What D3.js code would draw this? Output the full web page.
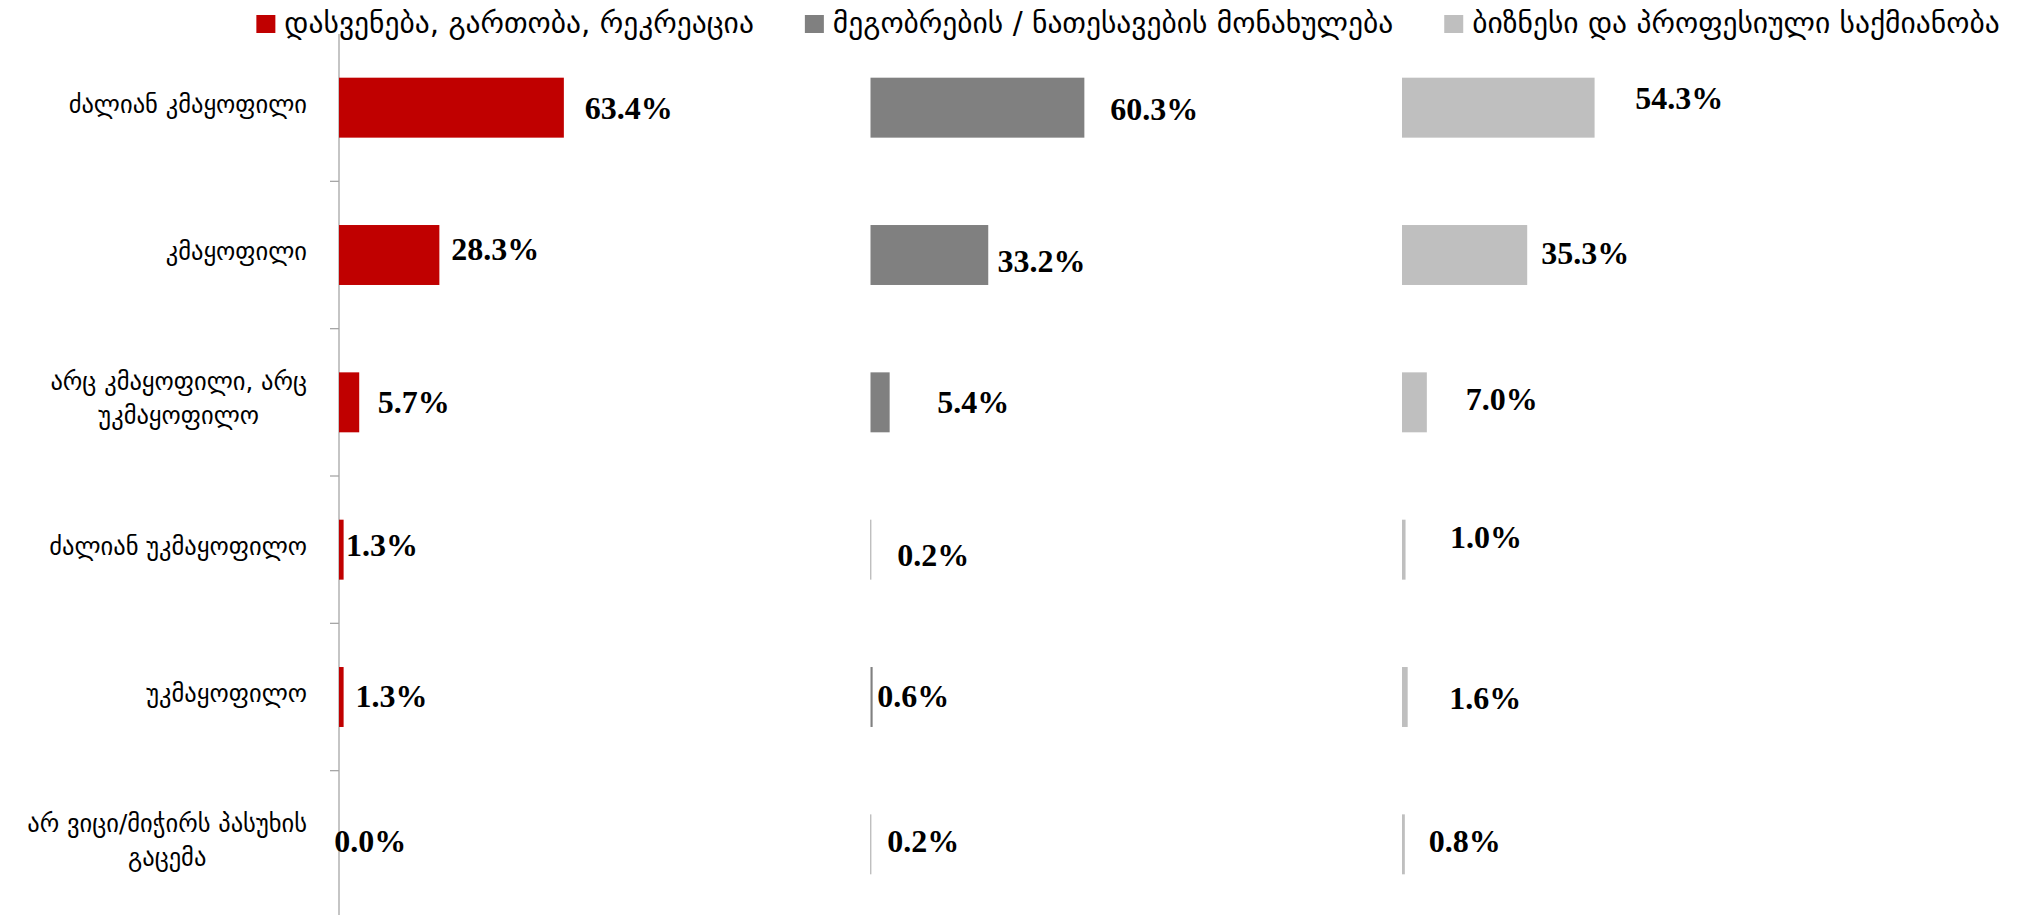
<!DOCTYPE html>
<html>
<head>
<meta charset="utf-8">
<script src="https://cdn.jsdelivr.net/npm/d3@7"></script>
<style>
  html, body { margin: 0; padding: 0; background: #ffffff; }
  svg { display: block; }
</style>
</head>
<body>
<svg id="chart" width="2026" height="915"></svg>
<script>
// ---- data ----
const categories = [
  "ძალიან კმაყოფილი",
  "კმაყოფილი",
  "არც კმაყოფილი, არც უკმაყოფილო",
  "ძალიან უკმაყოფილო",
  "უკმაყოფილო",
  "არ ვიცი/მიჭირს პასუხის გაცემა"
];
const seriesNames = [
  "დასვენება, გართობა, რეკრეაცია",
  "მეგობრების / ნათესავების მონახულება",
  "ბიზნესი და პროფესიული საქმიანობა"
];
const leisure  = [63.4, 28.3, 5.7, 1.3, 1.3, 0.0];
const visiting = [60.3, 33.2, 5.4, 0.2, 0.6, 0.2];
const business = [54.3, 35.3, 7.0, 1.0, 1.6, 0.8];
const seriesValues = [leisure, visiting, business];
const seriesColors = ["#C00000", "#808080", "#BFBFBF"];

// manual label nudges (px) as placed in the original chart
const labelGap = [
  [21, 12, 18.5, 2.5, 12, -4.7],
  [26, 9.3, 47.7, 26, 4.7, 16],
  [40.7, 14, 39, 44.5, 41.6, 24]
];
const labelLift = [
  [0, -6, 0, -5, -1, -3],
  [1, 6, 0, 5, -1, -3],
  [-10, -2, -3, -13, 1, -3]
];

// ---- layout ----
const svg = d3.select("#chart");
const catFont = "'DejaVu Sans', 'Noto Sans', sans-serif";
const numFont = "'Liberation Serif', 'DejaVu Serif', serif";
const catSize = 24.5;

const panel = d3.scaleBand().domain(seriesNames).range([339, 339 + 3 * 531.5]).padding(0);
const x = d3.scaleLinear().domain([0, 150]).range([0, 532]);
const y = d3.scaleBand().domain(categories).range([34, 918]).padding(0);
const barH = y.bandwidth() * 0.407;

// ---- axis (first panel only) ----
const axisX = panel(seriesNames[0]);
const axisG = svg.append("g").attr("class", "axis");
axisG.append("line")
  .attr("x1", axisX).attr("x2", axisX)
  .attr("y1", y.range()[0]).attr("y2", y.range()[1])
  .attr("stroke", "#A6A6A6").attr("stroke-width", 1.3);
axisG.selectAll("line.tick")
  .data(categories.slice(1))
  .join("line")
  .attr("class", "tick")
  .attr("x1", axisX - 9).attr("x2", axisX)
  .attr("y1", d => y(d)).attr("y2", d => y(d))
  .attr("stroke", "#A6A6A6").attr("stroke-width", 1.3);

// ---- category labels ----
const catG = svg.append("g").attr("class", "cats");
const labelRight = axisX - 32;
const wrapWidth = 305;
categories.forEach(cat => {
  const t = catG.append("text")
    .attr("font-family", catFont).attr("font-size", catSize)
    .attr("fill", "#000");
  const words = cat.split(" ");
  const lines = [];
  let cur = "";
  const probe = catG.append("text").attr("font-family", catFont).attr("font-size", catSize);
  words.forEach(w => {
    const test = cur ? cur + " " + w : w;
    probe.text(test);
    if (probe.node().getComputedTextLength() > wrapWidth && cur) {
      lines.push(cur); cur = w;
    } else cur = test;
  });
  lines.push(cur);
  let maxW = 0;
  lines.forEach(l => { probe.text(l); maxW = Math.max(maxW, probe.node().getComputedTextLength()); });
  probe.remove();
  const cx = labelRight - maxW / 2;
  const cy = y(cat) + y.bandwidth() / 2;
  lines.forEach((l, i) => {
    t.append("tspan")
      .attr("x", cx)
      .attr("y", cy + 5 + (i - (lines.length - 1) / 2) * 34)
      .attr("text-anchor", "middle")
      .text(l);
  });
});

// ---- bars and value labels ----
seriesNames.forEach((s, si) => {
  const g = svg.append("g").attr("transform", `translate(${panel(s)},0)`);
  const rows = categories.map((c, i) => ({ c, v: seriesValues[si][i], i }));
  g.selectAll("rect")
    .data(rows)
    .join("rect")
    .attr("x", x(0))
    .attr("y", d => y(d.c) + (y.bandwidth() - barH) / 2)
    .attr("width", d => x(d.v) - x(0))
    .attr("height", barH)
    .attr("fill", seriesColors[si]);
  g.selectAll("text")
    .data(rows)
    .join("text")
    .attr("x", d => x(d.v) + labelGap[si][d.i])
    .attr("y", d => y(d.c) + y.bandwidth() / 2 + labelLift[si][d.i] + 11)
    .attr("font-family", numFont)
    .attr("font-weight", "bold")
    .attr("font-size", 32)
    .attr("fill", "#000")
    .text(d => d.v.toFixed(1) + "%");
});

// ---- legend ----
const legG = svg.append("g").attr("class", "legend");
const legFont = 29.5;
const items = seriesNames.map((s, i) => {
  const g = legG.append("g");
  g.append("rect").attr("x", 0).attr("y", 15).attr("width", 19).attr("height", 18)
    .attr("fill", seriesColors[i]);
  const t = g.append("text").attr("x", 28).attr("y", 33)
    .attr("font-family", catFont).attr("font-size", legFont).attr("fill", "#000").text(s);
  return { g, w: 28 + t.node().getComputedTextLength() };
});
const gapBetween = 51;
const total = d3.sum(items, d => d.w) + gapBetween * (items.length - 1);
let lx = 1128 - total / 2;
items.forEach(it => { it.g.attr("transform", `translate(${lx},0)`); lx += it.w + gapBetween; });
</script>
</body>
</html>
